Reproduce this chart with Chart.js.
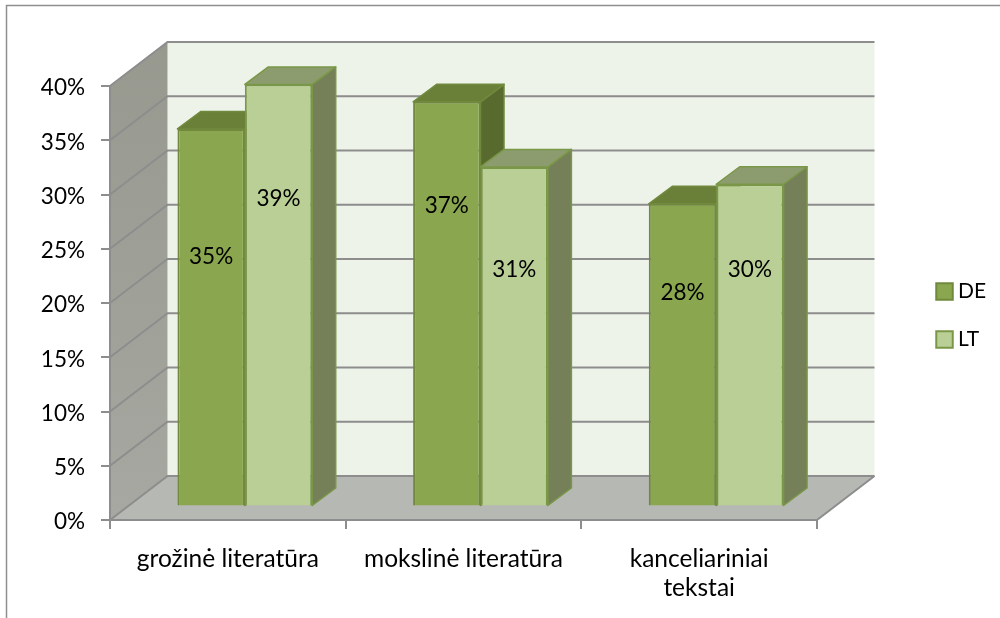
<!DOCTYPE html>
<html>
<head>
<meta charset="utf-8">
<style>html,body{margin:0;padding:0;background:#fff}canvas{display:block}</style>
<script src="https://cdn.jsdelivr.net/npm/chart.js@4"></script>
</head>
<body>
<canvas id="c" width="1000" height="618"></canvas>
<script>
const categories = ['grožinė literatūra', 'mokslinė literatūra', ['kanceliariniai', 'tekstai']];
const seriesNames = ['DE', 'LT'];
const valuesDE = [34.8, 37.3, 27.9];
const valuesLT = [38.9, 31.3, 29.7];
const yTickStep = 5;
const yMax = 40;

const FONT = 'Lato';
const wall = {dx: 57.5, dy: 44};
const barShift = {x: 17, y: 13.5};
const barDepth = {dx: 23.5, dy: 17.5};
const gridColor = '#8d8d8d';
const looks = [
  {front: '#8AA74F', top: '#6A8038', side: '#586A2E', edge: '#70893D'},
  {front: '#B9CF95', top: '#8D9C6E', side: '#758058', edge: '#7A9748'}
];
// vertical placement of each data label relative to its bar's middle
const labelLift = [[60, 98, 62], [96, 66, 75]];

function poly(ctx, pts, fill, stroke, lw) {
  ctx.beginPath();
  pts.forEach((p, i) => i ? ctx.lineTo(p[0], p[1]) : ctx.moveTo(p[0], p[1]));
  ctx.closePath();
  if (fill) { ctx.fillStyle = fill; ctx.fill(); }
  if (stroke) { ctx.strokeStyle = stroke; ctx.lineWidth = lw; ctx.lineJoin = 'round'; ctx.stroke(); }
}

const scene = {
  id: 'scene',
  afterLayout(chart) {
    const l = chart.legend;
    l.left = 941.5 - 27; l.right = 1000; l.top = 254; l.bottom = 618;
  },
  beforeDraw(chart) {
    const {ctx, chartArea: a, scales: {y}} = chart;
    const {dx, dy} = wall;
    ctx.save();
    // outer frame
    ctx.strokeStyle = '#8f8f8f'; ctx.lineWidth = 1.5;
    ctx.beginPath(); ctx.moveTo(6.5, 618); ctx.lineTo(6.5, 5.5); ctx.lineTo(1000, 5.5); ctx.stroke();
    // back wall
    ctx.fillStyle = '#EEF3EA';
    ctx.fillRect(a.left + dx, a.top - dy, a.right - a.left, a.bottom - a.top);
    // side wall
    const g = ctx.createLinearGradient(0, a.top - dy, 0, a.bottom);
    g.addColorStop(0, '#97998f'); g.addColorStop(1, '#a6a8a1');
    poly(ctx, [[a.left, a.top], [a.left + dx, a.top - dy], [a.left + dx, a.bottom - dy], [a.left, a.bottom]], g);
    // floor
    poly(ctx, [[a.left, a.bottom], [a.right, a.bottom], [a.right + dx, a.bottom - dy], [a.left + dx, a.bottom - dy]], '#B6B8B3');
    // gridlines along side and back walls, from the value scale
    ctx.strokeStyle = gridColor; ctx.lineWidth = 2;
    y.ticks.forEach(t => {
      const py = y.getPixelForValue(t.value);
      ctx.beginPath();
      ctx.moveTo(a.left, py); ctx.lineTo(a.left + dx, py - dy); ctx.lineTo(a.right + dx, py - dy);
      ctx.stroke();
    });
    ctx.beginPath(); ctx.moveTo(a.right, a.bottom); ctx.lineTo(a.right + dx, a.bottom - dy); ctx.stroke();
    ctx.restore();
  },
  // painter's order: DE first, then LT over it
  beforeDatasetsDraw(chart) {
    const {ctx} = chart;
    const {dx, dy} = barDepth;
    chart.data.datasets.forEach((ds, i) => {
      const meta = chart.getDatasetMeta(i);
      const look = looks[i];
      ctx.save();
      ctx.translate(barShift.x, -barShift.y);
      meta.data.forEach(el => {
        const {x, y, width, base} = el.getProps(['x', 'y', 'width', 'base'], true);
        const L = x - width / 2, R = x + width / 2;
        poly(ctx, [[R, y], [R + dx, y - dy], [R + dx, base - dy], [R, base]], look.side, look.edge, 1.5);
        poly(ctx, [[L, y], [R, y], [R + dx, y - dy], [L + dx, y - dy]], look.top, look.edge, 1.5);
      });
      meta.controller.draw();
      ctx.restore();
    });
  },
  beforeDatasetDraw() {
    return false;
  },
  afterDatasetsDraw(chart) {
    const {ctx} = chart;
    ctx.save();
    ctx.fillStyle = '#000';
    ctx.font = '22.5px ' + FONT;
    ctx.textAlign = 'center';
    ctx.textBaseline = 'middle';
    chart.data.datasets.forEach((ds, i) => {
      chart.getDatasetMeta(i).data.forEach((el, j) => {
        const {x, y, base} = el.getProps(['x', 'y', 'base'], true);
        ctx.fillText(Math.round(ds.data[j]) + '%', x + barShift.x, (y + base) / 2 - barShift.y - labelLift[i][j]);
      });
    });
    ctx.restore();
  }
};

function dataset(i, values) {
  return {
    label: seriesNames[i], data: values,
    backgroundColor: looks[i].front, borderColor: looks[i].edge, borderWidth: 2,
    clip: false
  };
}

new Chart(document.getElementById('c'), {
  type: 'bar',
  data: {labels: categories, datasets: [dataset(0, valuesDE), dataset(1, valuesLT)]},
  plugins: [scene],
  options: {
    responsive: false, animation: false,
    layout: {padding: {top: 86, right: 182, left: 0, bottom: 0}},
    categoryPercentage: 0.572, barPercentage: 1,
    scales: {
      x: {
        grid: {color: gridColor, lineWidth: 2, drawOnChartArea: false, tickLength: 9},
        border: {color: gridColor, width: 2},
        ticks: {color: '#000', font: {family: FONT, size: 24.5, lineHeight: 1.18}, padding: 15.5, maxRotation: 0, autoSkip: false},
        afterFit(s) { s.height = 98; }
      },
      y: {
        min: 0, max: yMax,
        grid: {color: gridColor, lineWidth: 2, drawOnChartArea: false, tickLength: 9},
        border: {color: gridColor, width: 2},
        // the blank first line nudges each label down to sit as in the reference
        ticks: {stepSize: yTickStep, color: '#000', font: {family: FONT, size: 22.5, lineHeight: 0.18}, padding: 16, callback: v => ['', v + '%']},
        afterFit(s) { s.width = 110; }
      }
    },
    plugins: {
      tooltip: {enabled: false},
      legend: {
        position: 'right', align: 'start', maxWidth: 1,
        labels: {
          color: '#000', font: {family: FONT, size: 21},
          usePointStyle: true, pointStyle: 'rect', boxWidth: 6, boxHeight: 16.5, padding: 27,
          sort: (a, b) => a.datasetIndex - b.datasetIndex
        }
      }
    }
  }
});
</script>
</body>
</html>
